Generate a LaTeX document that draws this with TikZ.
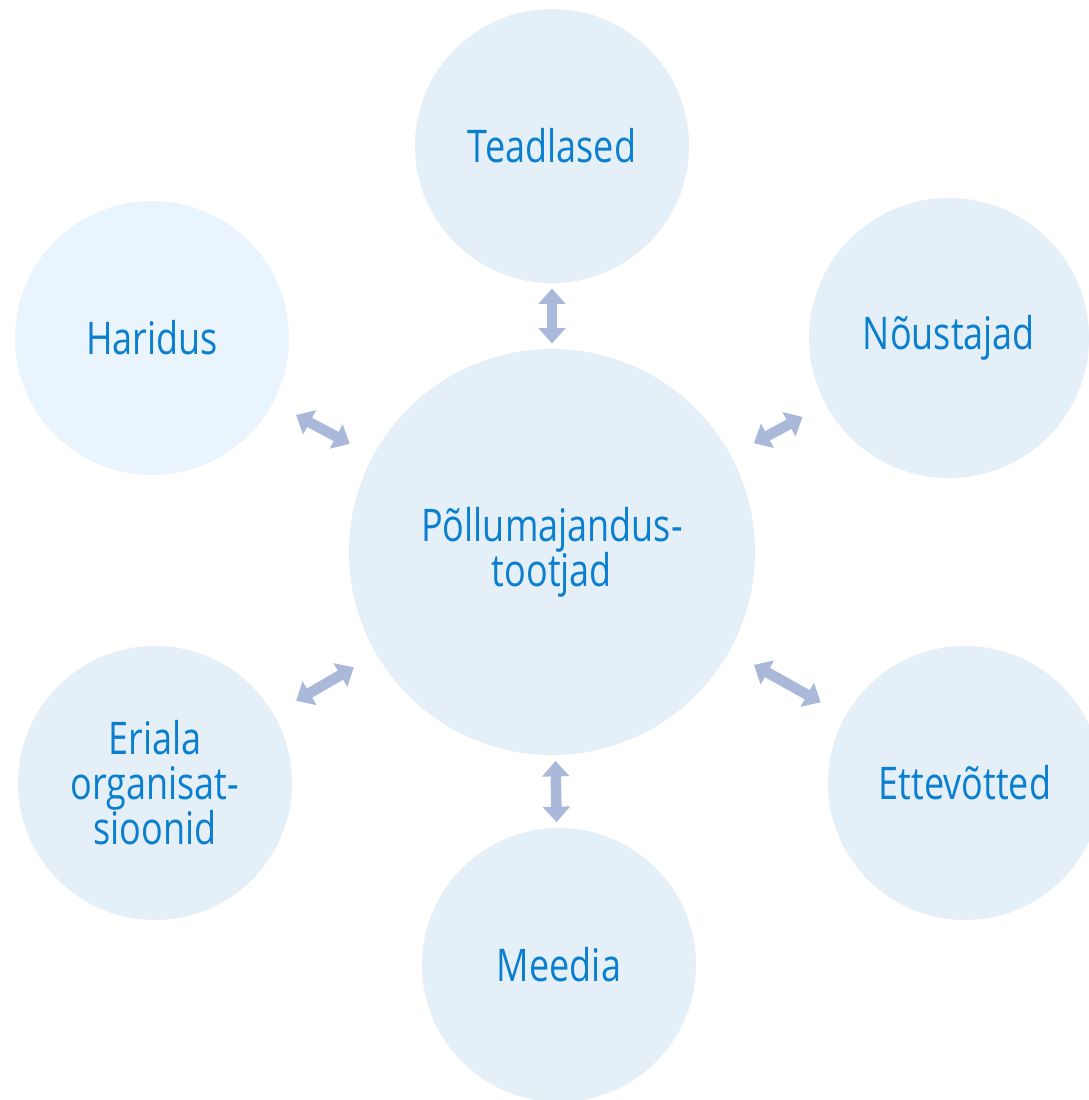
\documentclass[tikz,border=0pt]{standalone}
\usepackage{fontspec}
\setmainfont[FakeStretch=0.8]{Open Sans}
\usetikzlibrary{arrows.meta}
\usepackage{xcolor}
\definecolor{paleblue}{RGB}{229,239,247}
\definecolor{lightblue}{RGB}{234,244,253}
\definecolor{textblue}{RGB}{10,127,208}
\definecolor{linkblue}{RGB}{170,185,217}

\begin{document}
\begin{tikzpicture}[x=0.025cm,y=-0.025cm,
        party/.style={circle,fill=paleblue,inner sep=0pt,minimum size=6.85cm,
            text=textblue,align=center,font=\fontsize{32}{32}\selectfont},
        link/.style={linkblue,line width=7.5pt,
            {Triangle[width=19pt,length=11pt]}-{Triangle[width=19pt,length=11pt]},
            shorten <=#1,shorten >=#1},
        link/.default=0.65cm]
        \useasboundingbox (0,0) rectangle (1089,1100);
        \clip (0,0) rectangle (1089,1100);

        % Centre
        \node[party,minimum size=10.15cm] (hub) at (552,552) {Põllumajandus-\\tootjad};

        % Partners around it
        \node[party] (tead) at (552,146) {Teadlased};
        \node[party,fill=lightblue] (hari) at (152,338) {Haridus};
        \node[party,minimum size=7cm] (nous) at (949,338) {Nõustajad};
        \node[party] (erial) at (155,783) {Eriala\\organisat-\\sioonid};
        \node[party] (ettev) at (965,783) {Ettevõtted};
        \node[party] (meed) at (559,965) {Meedia};

        % Two-way links
        \draw[link=0.13cm] (hub) -- (tead);
        \draw[link] (hub) -- (hari);
        \draw[link] (hub) -- (nous);
        \draw[link] (hub) -- (erial);
        \draw[link=0.7cm] (hub) -- (ettev);
        \draw[link=0.14cm] (hub) -- (meed);

    \end{tikzpicture}
\end{document}
